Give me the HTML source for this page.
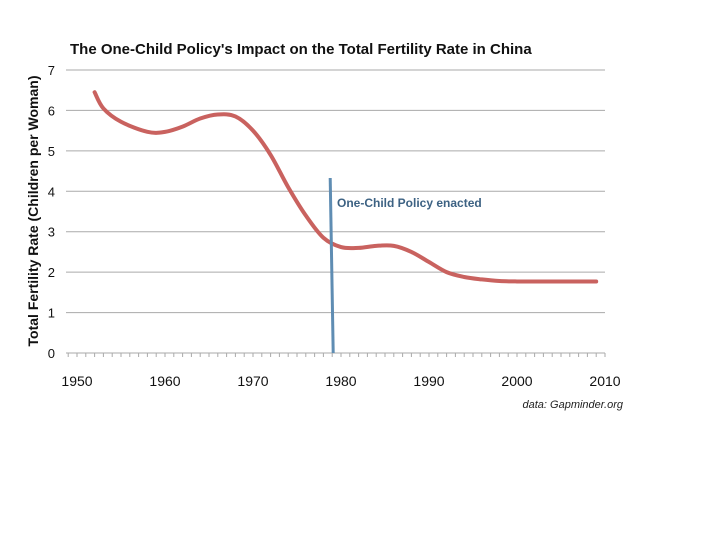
<!DOCTYPE html>
<html><head><meta charset="utf-8"><style>
html,body{margin:0;padding:0;background:#fff;}
svg{display:block;font-family:"Liberation Sans",sans-serif;}
</style></head><body>
<svg id="chart" width="720" height="540">
<text x="70" y="54" font-size="15" font-weight="bold" fill="#111">The One-Child Policy's Impact on the Total Fertility Rate in China</text>
<text transform="translate(38,211) rotate(-90)" text-anchor="middle" font-size="14" font-weight="bold" fill="#111">Total Fertility Rate (Children per Woman)</text>
<g id="grid"></g><g id="ticks"></g><g id="series"></g>
<text x="623" y="408" text-anchor="end" font-size="11" font-style="italic" fill="#222">data: Gapminder.org</text>
</svg>
<script>
const years=[1952,1953,1955,1958,1960,1962,1964,1966,1968,1970,1972,1974,1976,1978,1980,1982,1984,1986,1988,1990,1992,1994,1996,1998,2000,2004,2009];
const tfr=[6.45,6.05,5.72,5.47,5.47,5.6,5.8,5.9,5.85,5.5,4.9,4.1,3.4,2.85,2.62,2.6,2.65,2.65,2.5,2.25,2.0,1.88,1.82,1.78,1.77,1.77,1.77];
const yTicks=[0,1,2,3,4,5,6,7];
const xTicks=[1950,1960,1970,1980,1990,2000,2010];
const policyYear=1979;
const policyLabel="One-Child Policy enacted";
const NS="http://www.w3.org/2000/svg";
const X=y=>77+(y-1950)*8.8;
const Y=v=>353-v*40.43;
function mk(t,a,p){const e=document.createElementNS(NS,t);for(const k in a)e.setAttribute(k,a[k]);p.appendChild(e);return e;}
const g=document.getElementById('grid'),tk=document.getElementById('ticks'),s=document.getElementById('series');
yTicks.forEach(v=>{
 const l=mk('line',{x1:66,x2:605,y1:Y(v),y2:Y(v),stroke:'#aaa','stroke-width':1},g);
 
 
 const t=mk('text',{x:55,y:Y(v)+5,'text-anchor':'end','font-size':13,fill:'#111'},tk);
 t.textContent=v;
 
 
});
for(let yr=1949;yr<=2010;yr++){
 const m=mk('line',{x1:X(yr),x2:X(yr),y1:353,y2:357,stroke:'#aaa','stroke-width':1},tk);
 
 
}
xTicks.forEach(yr=>{
 const t=mk('text',{x:X(yr),y:386,'text-anchor':'middle','font-size':14,fill:'#111'},tk);
 t.textContent=yr;
 
 
});
const pts=years.map((yr,i)=>[X(yr),Y(tfr[i])]);
let d='M'+pts[0][0]+','+pts[0][1];
for(let i=0;i<pts.length-1;i++){
 const p0=pts[i-1]||pts[i],p1=pts[i],p2=pts[i+1],p3=pts[i+2]||p2;
 d+=` C${p1[0]+(p2[0]-p0[0])/6},${p1[1]+(p2[1]-p0[1])/6} ${p2[0]-(p3[0]-p1[0])/6},${p2[1]-(p3[1]-p1[1])/6} ${p2[0]},${p2[1]}`;
}
const path=mk('path',{d:d,fill:'none',stroke:'#c9625f','stroke-width':4,'stroke-linecap':'round'},s);


const pl=mk('line',{x1:X(policyYear)-2,y1:178,x2:X(policyYear)+1,y2:353,stroke:'#5f8db3','stroke-width':3},s);


const lt=mk('text',{x:337,y:207,'font-size':12,'font-weight':'bold',fill:'#3d6283'},s);
lt.textContent=policyLabel;


</script>
</body></html>
